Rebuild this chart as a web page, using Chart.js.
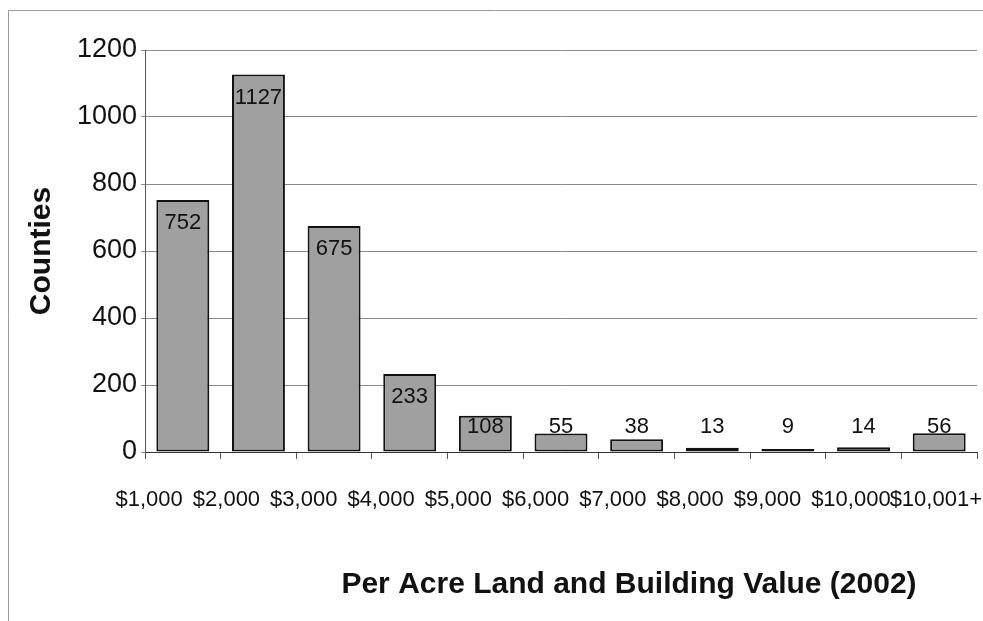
<!DOCTYPE html>
<html lang="en">
<head>
    <meta charset="UTF-8">
    <title>Per Acre Land and Building Value (2002)</title>
    <script src="https://cdn.jsdelivr.net/npm/chart.js@4"></script>
    <style>
        html, body { margin: 0; padding: 0; background: white; }
        #wrap { width: 983px; height: 621px; position: relative; }
    </style>
</head>
<body>
    <div id="wrap"><canvas id="chart" width="983" height="621"></canvas></div>

    <script>
        const categories = ['$1,000', '$2,000', '$3,000', '$4,000', '$5,000', '$6,000',
                            '$7,000', '$8,000', '$9,000', '$10,000', '$10,001+'];
        const counties = [752, 1127, 675, 233, 108, 55, 38, 13, 9, 14, 56];
        const yTicks = [0, 200, 400, 600, 800, 1000, 1200];
        const xTitle = 'Per Acre Land and Building Value (2002)';
        const yTitle = 'Counties';

        const FONT = "'Liberation Sans', Arial, Helvetica, sans-serif";

        // frame round the whole picture
        const framePlugin = {
            id: 'frame',
            beforeDraw(chart) {
                const c = chart.ctx;
                c.save();
                c.strokeStyle = '#9a9a9a';
                c.lineWidth = 1;
                c.beginPath();
                c.moveTo(8.5, chart.height);
                c.lineTo(8.5, 10.5);
                c.lineTo(chart.width, 10.5);
                c.stroke();
                c.restore();
            }
        };

        // value labels: just under the bar top, but never lower than a fixed line above the axis
        const valueLabels = {
            id: 'valueLabels',
            afterDatasetsDraw(chart) {
                const c = chart.ctx;
                const meta = chart.getDatasetMeta(0);
                const base = chart.scales.y.getPixelForValue(0);
                c.save();
                c.font = '22px ' + FONT;
                c.fillStyle = '#111';
                c.textAlign = 'center';
                c.textBaseline = 'middle';
                meta.data.forEach((bar, i) => {
                    const y = Math.min(bar.y + 23, base - 25);
                    c.fillText(String(counties[i]), bar.x, y);
                });
                c.restore();
            }
        };

        // category labels: right edge on the bar centre, pushed right when they would collide
        const categoryLabels = {
            id: 'categoryLabels',
            afterDraw(chart) {
                const c = chart.ctx;
                const x = chart.scales.x;
                c.save();
                c.font = '22px ' + FONT;
                c.fillStyle = '#111';
                c.textAlign = 'left';
                c.textBaseline = 'alphabetic';
                let prevEnd = -Infinity;
                categories.forEach((lab, i) => {
                    const w = c.measureText(lab).width;
                    let start = x.getPixelForTick(i) - w;
                    if (start < prevEnd + 10) start = prevEnd + 10;
                    if (start + w > chart.width - 1) start = chart.width - 1 - w;
                    c.fillText(lab, start, 506);
                    prevEnd = start + w;
                });
                c.restore();
            }
        };

        // axis titles
        const axisTitles = {
            id: 'axisTitles',
            afterDraw(chart) {
                const c = chart.ctx;
                const a = chart.chartArea;
                c.save();
                c.fillStyle = '#111';
                c.font = 'bold 30px ' + FONT;
                c.textAlign = 'center';
                c.textBaseline = 'middle';
                c.fillText(xTitle, (a.left + a.right) / 2 + 68, 585);
                c.translate(42, (a.top + a.bottom) / 2);
                c.rotate(-Math.PI / 2);
                c.fillText(yTitle, 0, 0);
                c.restore();
            }
        };

        new Chart(document.getElementById('chart'), {
            type: 'bar',
            data: {
                labels: categories,
                datasets: [{
                    label: yTitle,
                    data: counties,
                    backgroundColor: '#a0a0a0',
                    borderColor: '#111',
                    borderWidth: 2,
                    borderSkipped: false,
                    barPercentage: 0.7,
                    categoryPercentage: 1.0
                }]
            },
            options: {
                responsive: false,
                animation: false,
                layout: { padding: { top: 50, right: 6, left: 0, bottom: 0 } },
                plugins: {
                    legend: { display: false },
                    tooltip: { enabled: false }
                },
                scales: {
                    x: {
                        offset: true,
                        grid: {
                            offset: true,
                            drawOnChartArea: false,
                            drawTicks: true,
                            tickLength: 7,
                            color: '#555'
                        },
                        border: { color: '#333', width: 1 },
                        ticks: {
                            display: false,
                            autoSkip: false
                        },
                        afterFit(scale) {
                            scale.height = 169;
                            scale.paddingLeft = 0;
                            scale.paddingRight = 0;
                        }
                    },
                    y: {
                        min: 0,
                        max: 1200,
                        afterBuildTicks(scale) { scale.ticks = yTicks.map(v => ({ value: v })); },
                        grid: {
                            color: '#8a8a8a',
                            lineWidth: 1,
                            tickLength: 4
                        },
                        border: { color: '#555', width: 1 },
                        ticks: {
                            color: '#111',
                            font: { size: 27, family: FONT },
                            padding: 4,
                            callback: v => String(v)
                        },
                        afterFit(scale) { scale.width = 145; }
                    }
                }
            },
            plugins: [framePlugin, valueLabels, categoryLabels, axisTitles]
        });
    </script>
</body>
</html>
